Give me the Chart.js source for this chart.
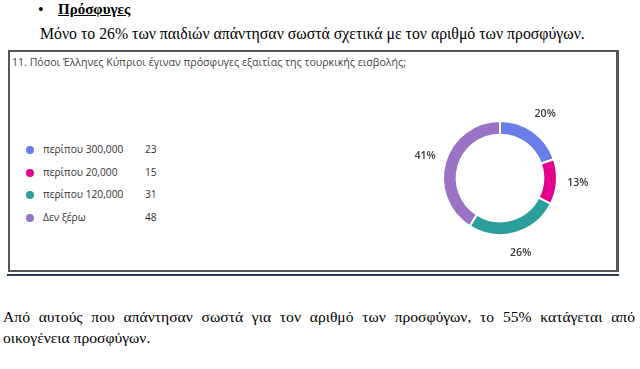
<!DOCTYPE html>
<html><head><meta charset="utf-8">
<script src="https://cdn.jsdelivr.net/npm/chart.js@4.4.1/dist/chart.umd.min.js"></script>
<style>
html,body{margin:0;padding:0;background:#fff;width:640px;height:369px;overflow:hidden;position:relative}
.serif{font-family:"Liberation Serif","Times New Roman",serif;color:#000;position:absolute;white-space:nowrap}
#frame{position:absolute;left:8px;top:50px;width:606px;height:218px;border:2px solid #555;border-right-width:3px;box-sizing:content-box}
#underline2{position:absolute;left:7px;top:274px;width:612px;height:2px;background:#2f3f55}
#title{position:absolute;left:12px;top:55px;font-family:"Open Sans","Noto Sans",sans-serif;font-size:10.6px;color:#444;white-space:nowrap}
#legend{position:absolute;left:26px;top:142px;font-family:"Open Sans","Noto Sans",sans-serif;font-size:10.2px;color:#333}
.row{position:relative;height:22.5px;white-space:nowrap}
.dot{position:absolute;left:0;top:4px;width:8px;height:8px;border-radius:50%}
.lab{position:absolute;left:17px;top:0}
.cnt{position:absolute;left:119px;top:0}
#wrap{position:absolute;left:400px;top:90px;width:200px;height:176px}
</style></head><body>
<div class="serif" style="left:38px;top:1px;font-size:16px">•</div>
<div class="serif" style="left:58px;top:1px;font-size:15px;font-weight:bold;text-decoration:underline">Πρόσφυγες</div>
<div class="serif" style="left:40px;top:25px;font-size:15.8px">Μόνο το 26% των παιδιών απάντησαν σωστά σχετικά με τον αριθμό των προσφύγων.</div>
<div id="frame"></div>
<div id="underline2"></div>
<div id="title">11. Πόσοι Έλληνες Κύπριοι έγιναν πρόσφυγες εξαιτίας της τουρκικής εισβολής;</div>
<div id="legend"></div>
<div id="wrap"><canvas id="c" width="200" height="176"></canvas></div>
<div class="serif" style="left:3px;top:308px;font-size:15.6px;width:632px;text-align:justify;text-align-last:justify">Από αυτούς που απάντησαν σωστά για τον αριθμό των προσφύγων, το 55% κατάγεται από</div>
<div class="serif" style="left:3px;top:329px;font-size:15.6px">οικογένεια προσφύγων.</div>
<script>
const categories = ["περίπου 300,000", "περίπου 20,000", "περίπου 120,000", "Δεν ξέρω"];
const counts = [23, 15, 31, 48];
const colors = ["#6a7ee9", "#e3008c", "#2a9e9b", "#9a72c6"];

const leg = document.getElementById('legend');
categories.forEach((c, i) => {
  const r = document.createElement('div'); r.className = 'row';
  r.innerHTML = '<span class="dot" style="background:' + colors[i] + '"></span><span class="lab">' + c + '</span><span class="cnt">' + counts[i] + '</span>';
  leg.appendChild(r);
});

const total = counts.reduce((a, b) => a + b, 0);
const outLabels = {
  id: 'outLabels',
  afterDatasetsDraw(chart) {
    const ctx = chart.ctx;
    const meta = chart.getDatasetMeta(0);
    ctx.save();
    ctx.font = '600 10.6px "Open Sans","Noto Sans",sans-serif';
    ctx.fillStyle = '#3a3a3a';
    ctx.textAlign = 'center';
    ctx.textBaseline = 'middle';
    meta.data.forEach((arc, i) => {
      const p = arc.getProps(['x', 'y', 'startAngle', 'endAngle', 'outerRadius']);
      const a = (p.startAngle + p.endAngle) / 2;
      const d = p.outerRadius + 21;
      const pct = Math.round(counts[i] / total * 100) + '%';
      ctx.fillText(pct, p.x + Math.cos(a) * d, p.y + Math.sin(a) * d);
    });
    ctx.restore();
  }
};

new Chart(document.getElementById('c'), {
  type: 'doughnut',
  data: { labels: categories, datasets: [{ data: counts, backgroundColor: colors, borderColor: '#fff', borderWidth: 2, hoverOffset: 0 }] },
  options: {
    responsive: false, animation: false, cutout: '76%',
    layout: { padding: { left: 42, right: 42, top: 30, bottom: 30 } },
    plugins: { legend: { display: false }, tooltip: { enabled: false } }
  },
  plugins: [outLabels]
});
</script>
</body></html>
